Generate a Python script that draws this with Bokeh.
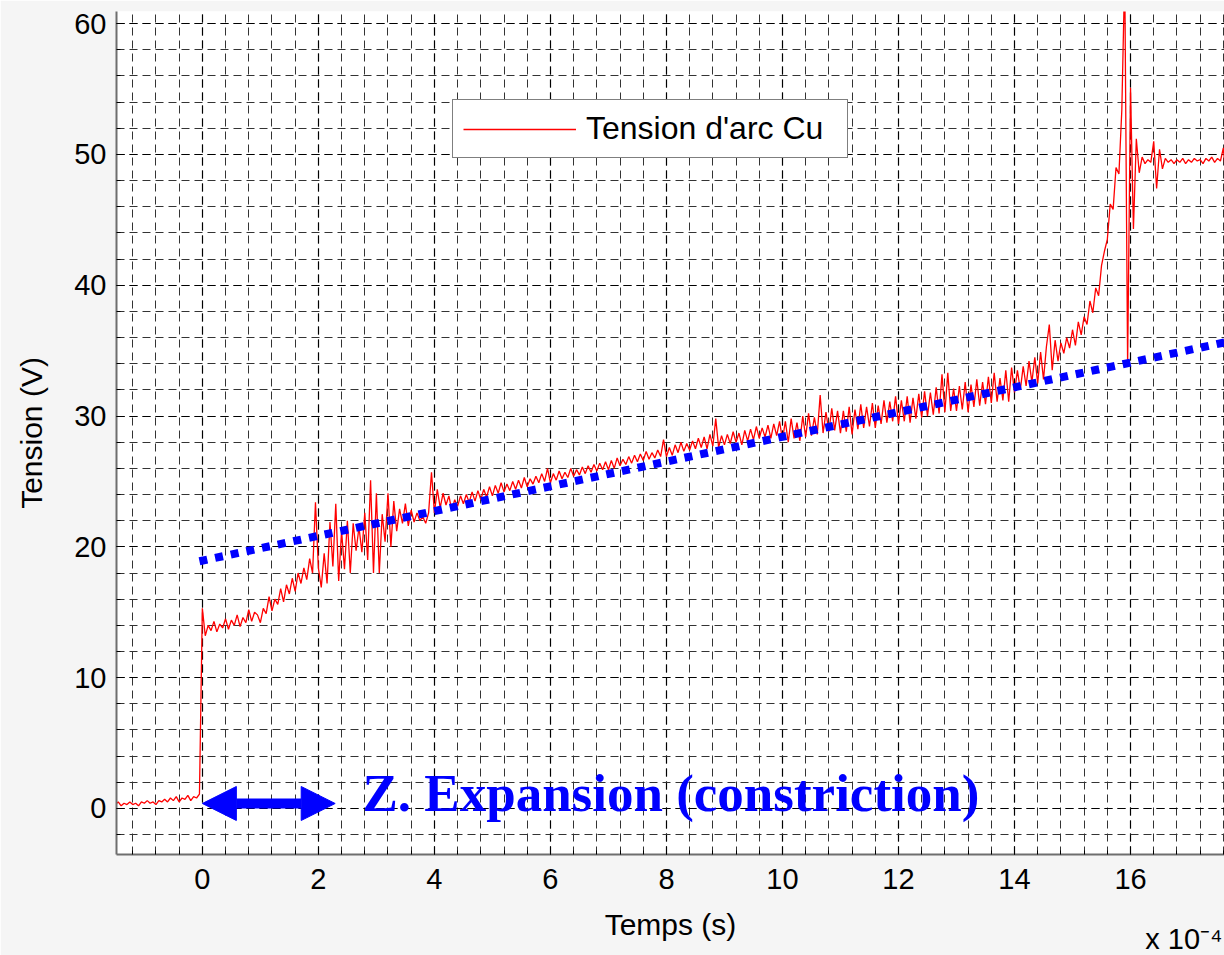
from bokeh.plotting import figure
from bokeh.models import Range1d, SingleIntervalTicker, Label, Arrow, NormalHead, Title
from bokeh.embed import file_html
from bokeh.resources import INLINE

# ---- data (time in units of 1e-4 s, voltage in V) ----
t_start = -1.50
t_step = 0.05

# before the arc ignition (-1.50 .. -0.05)
v_pre = [0.3, 0.5, 0.2, 0.4, 0.3, 0.5, 0.3, 0.4, 0.2, 0.5,
         0.4, 0.6, 0.4, 0.5, 0.3, 0.6, 0.5, 0.7, 0.5, 0.8,
         0.6, 0.9, 0.5, 0.8, 0.7, 1.0, 0.6, 0.9, 0.8, 1.1]

# 0.00 .. 3.95 : expansion / constriction zone
v_expansion = [15.3, 13.2, 14.0, 13.6, 14.3, 13.5, 14.1, 13.8, 14.5, 13.7, 14.4, 14.0, 14.8, 13.9, 14.6, 14.2, 15.2, 14.3, 15.0, 14.8,
               14.2, 15.3, 14.9, 16.2, 15.1, 16.0, 15.6, 16.8, 15.8, 17.1, 16.4, 17.6, 16.6, 18.0, 17.2, 18.4, 17.5, 19.1, 18.0, 23.4,
               18.4, 16.9, 19.5, 17.2, 21.9, 18.5, 23.3, 17.4, 21.2, 18.3, 22.0, 18.0, 21.8, 19.7, 21.5, 19.6, 22.6, 19.0, 25.1, 18.0,
               24.1, 18.0, 22.5, 20.4, 24.1, 20.0, 23.5, 21.2, 22.9, 21.8, 23.3, 21.6, 22.8, 21.9, 22.6, 22.0, 22.3, 21.8, 22.6, 25.7]

# 4.00 .. 13.95 : steady arc
v_steady = [22.6, 24.4, 23.0, 24.1, 23.2, 23.9, 22.8, 23.6, 23.1, 23.9, 23.3, 24.0, 23.4, 24.2, 23.5, 24.3, 23.6, 24.4, 23.8, 24.6,
            23.9, 24.7, 24.1, 24.9, 24.2, 24.8, 24.3, 25.0, 24.4, 25.1, 24.5, 25.3, 24.6, 25.2, 24.8, 25.4, 24.9, 25.6, 25.0, 26.0,
            24.9, 25.6, 25.1, 25.8, 25.2, 25.7, 25.3, 26.0, 25.4, 25.9, 25.5, 26.1, 25.6, 26.2, 25.7, 26.3, 25.8, 26.4, 25.9, 26.5,
            25.9, 26.6, 26.0, 26.8, 26.2, 26.7, 26.3, 26.9, 26.4, 27.0, 26.5, 27.1, 26.6, 27.3, 26.7, 27.2, 26.8, 27.4, 26.9, 28.2,
            26.9, 27.6, 27.0, 27.8, 27.2, 28.0, 27.3, 27.9, 27.4, 28.1, 27.5, 28.3, 27.6, 28.4, 27.5, 28.6, 27.7, 29.8, 27.6, 28.5,
            27.8, 28.6, 27.9, 28.8, 28.0, 28.7, 27.8, 28.9, 28.1, 29.0, 28.2, 29.2, 28.3, 29.1, 28.4, 29.3, 28.3, 29.4, 28.5, 29.6,
            28.2, 29.6, 28.0, 29.8, 28.3, 29.5, 28.1, 30.0, 28.4, 30.2, 28.5, 29.9, 28.6, 31.6, 28.7, 30.3, 28.8, 30.6, 28.9, 30.4,
            28.7, 30.4, 28.8, 30.7, 28.6, 30.5, 29.0, 30.9, 29.1, 30.7, 29.2, 31.0, 29.1, 30.8, 29.4, 31.2, 29.5, 31.1, 29.6, 31.5,
            29.4, 31.2, 29.6, 31.5, 29.5, 31.4, 29.8, 31.7, 29.9, 31.9, 30.0, 31.8, 30.1, 32.2, 30.2, 33.2, 30.3, 33.3, 30.4, 32.1,
            30.4, 32.3, 30.5, 32.6, 30.3, 32.4, 30.7, 32.8, 30.8, 32.6, 30.9, 33.0, 31.0, 33.3, 31.1, 32.9, 31.2, 33.5, 31.1, 33.7]

# 14.00 .. 17.65 : rise and extinction
v_extinction = [31.8, 33.5, 32.0, 33.8, 32.3, 34.2, 32.6, 34.5, 32.5, 34.9, 32.8, 35.3, 37.0, 33.5, 35.8, 34.2, 35.6, 34.8, 36.0, 35.2,
                36.6, 35.4, 37.2, 36.2, 37.6, 37.0, 38.8, 37.9, 39.8, 39.2, 41.5, 42.6, 43.5, 46.2, 45.8, 49.0, 48.5, 53.4, 64.0, 33.9,
                55.1, 44.3, 51.2, 48.6, 49.8, 49.3, 49.6, 49.4, 51.0, 47.4, 50.4, 48.9, 49.7, 49.4, 49.6, 49.3, 49.6, 49.4, 49.7, 49.3,
                49.6, 49.4, 49.7, 49.5, 49.6, 49.3, 49.7, 49.5, 49.8, 49.4, 49.7, 49.5, 50.5, 47.9]

voltage = v_pre + v_expansion + v_steady + v_extinction
time = [round(t_start + i * t_step, 2) for i in range(len(voltage))]

# linear trend (blue dotted)
fit_t = [-0.05, 17.7]
fit_v = [18.9, 35.7]

legend_text = "Tension d'arc Cu"
annotation_text = "Z. Expansion (constriction)"
scale_text = "x 10\u207b\u2074"

# ---- figure ----
p = figure(width=1224, height=955, output_backend="svg", toolbar_location=None,
           x_range=Range1d(-1.48, 17.62), y_range=Range1d(-3.52, 60.93),
           min_border_left=116, min_border_right=0, min_border_top=11, min_border_bottom=101,
           x_axis_label="Temps (s)", y_axis_label="Tension (V)")
p.background_fill_color = "white"
p.border_fill_color = "#f5f5f5"
p.outline_line_color = None

p.xaxis.ticker = SingleIntervalTicker(interval=2, num_minor_ticks=5)
p.yaxis.ticker = SingleIntervalTicker(interval=10, num_minor_ticks=5)

for ax in (p.xaxis[0], p.yaxis[0]):
    ax.axis_line_color = "#6e6e6e"
    ax.axis_line_width = 2
    ax.major_tick_in = 8
    ax.major_tick_out = 0
    ax.minor_tick_in = 4
    ax.minor_tick_out = 0
    ax.major_tick_line_color = "black"
    ax.minor_tick_line_color = "black"
    ax.major_label_text_font = "Liberation Sans"
    ax.major_label_text_font_size = "29px"
    ax.major_label_text_color = "black"
    ax.axis_label_text_font = "Liberation Sans"
    ax.axis_label_text_font_size = "30px"
    ax.axis_label_text_font_style = "normal"
    ax.axis_label_text_color = "black"

p.yaxis.major_label_standoff = 10
p.xaxis.major_label_standoff = 14
p.yaxis.axis_label_standoff = 23
p.xaxis.axis_label_standoff = 16

for g in (p.xgrid[0], p.ygrid[0]):
    g.grid_line_color = "black"
    g.grid_line_dash = "8 5"
    g.grid_line_width = 1.2
    g.minor_grid_line_color = "#333333"
    g.minor_grid_line_dash = "8 5"
    g.minor_grid_line_width = 1

p.line(time, voltage, color="#ff0000", line_width=1.3, legend_label=legend_text)
p.line(fit_t, fit_v, color="#0000ff", line_width=8, line_dash="8 8", line_cap="butt")

head_s = NormalHead(size=34, fill_color="#0000ff", line_color="#0000ff")
head_e = NormalHead(size=34, fill_color="#0000ff", line_color="#0000ff")
p.add_layout(Arrow(start=head_s, end=head_e, x_start=0.0, y_start=0.38, x_end=2.29, y_end=0.38,
                   line_color="#0000ff", line_width=10))

p.add_layout(Label(x=2.76, y=1.15, text=annotation_text, text_font="Liberation Serif",
                   text_font_style="bold", text_font_size="53px", text_color="#0000ff",
                   text_baseline="middle"))

# axis multiplier, bottom-right corner (side panel so that it is not clipped)
p.add_layout(Title(text=scale_text, align="right", offset=2, vertical_align="top",
                   standoff=-42, text_font="Liberation Sans", text_font_size="29px",
                   text_font_style="normal", text_color="black"), "below")

lg = p.legend[0]
lg.location = (336, 696)
lg.margin = 0
lg.padding = 10
lg.spacing = 0
lg.glyph_width = 113
lg.glyph_height = 36
lg.label_height = 36
lg.label_width = 251
lg.label_standoff = 10
lg.label_text_font = "Liberation Sans"
lg.label_text_font_size = "32px"
lg.label_text_color = "black"
lg.border_line_color = "black"
lg.border_line_width = 1.5
lg.background_fill_color = "white"
lg.background_fill_alpha = 1.0

open("out.html", "w").write(file_html(p, INLINE))
